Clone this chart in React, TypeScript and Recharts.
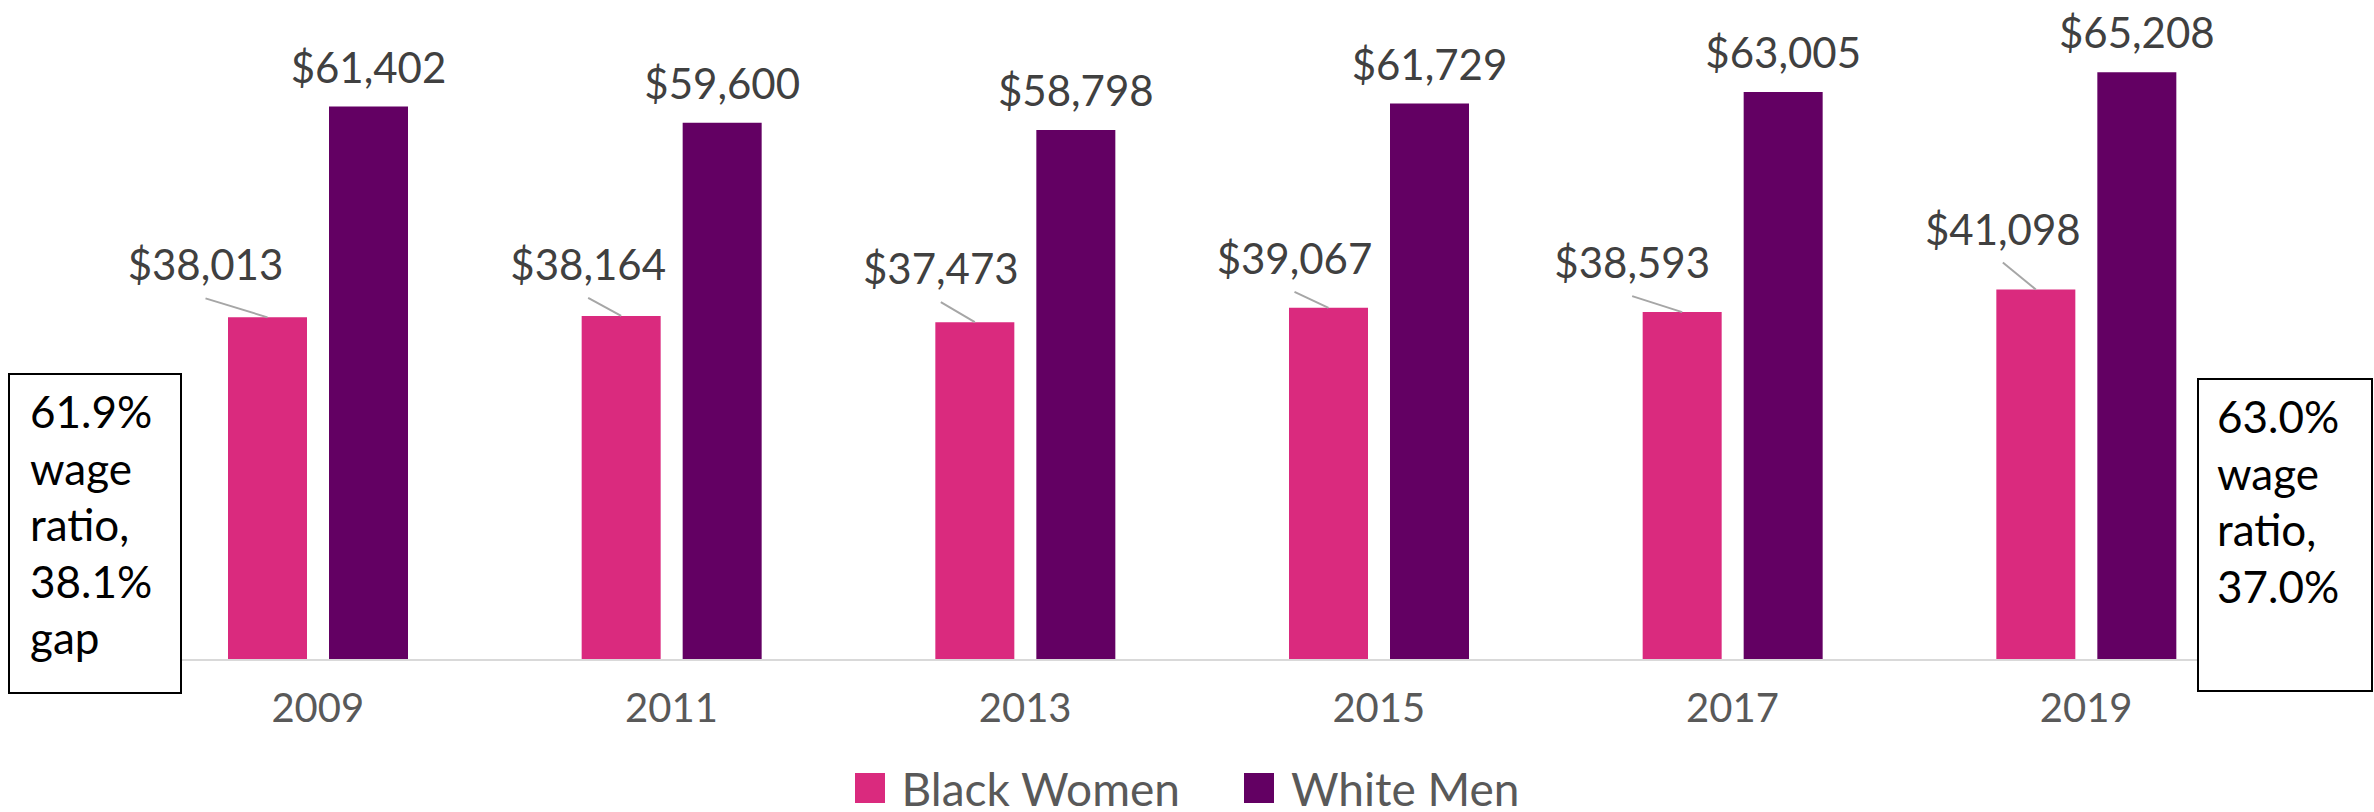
import React from "react"
import { BarChart, Bar, XAxis, YAxis, LabelList } from "recharts"

const years = ["2009", "2011", "2013", "2015", "2017", "2019"]
const blackWomen = [38013, 38164, 37473, 39067, 38593, 41098]
const whiteMen = [61402, 59600, 58798, 61729, 63005, 65208]
const leftNote = ["61.9%", "wage", "ratio,", "38.1%", "gap"]
const rightNote = ["63.0%", "wage", "ratio,", "37.0%"]

// hand-placed label nudges for the pink series (Excel-style moved labels)
const pinkLabelDx = [-62, -33, -34, -34, -50, -33]
const pinkLabelDy = [-37, -36, -38, -34, -34, -45]

const PINK = "#da2a7e"
const PURPLE = "#630063"
const FONT = "Lato, 'Open Sans', sans-serif"

const series = [
  { key: "black", name: "Black Women", color: PINK },
  { key: "white", name: "White Men", color: PURPLE }
]

const data = years.map((year, i) => ({
  year,
  black: blackWomen[i],
  white: whiteMen[i]
}))

const money = (v: number) => "$" + v.toLocaleString("en-US")

function YearTick(props: any) {
  const { x, y, payload } = props
  return (
    <text x={x} y={y + 62} textAnchor="middle" fill="#595959" fontSize={40} fontFamily={FONT}>
      {payload.value}
    </text>
  )
}

function WhiteLabel(props: any) {
  const { x, y, width, value } = props
  return (
    <text x={x + width / 2} y={y - 24} textAnchor="middle" fill="#404040" fontSize={42} fontFamily={FONT}>
      {money(value)}
    </text>
  )
}

function BlackLabel(props: any) {
  const { x, y, width, value, index } = props
  const cx = x + width / 2
  const lx = cx + pinkLabelDx[index]
  const ly = y + pinkLabelDy[index]
  return (
    <g>
      <line x1={lx} y1={ly + 18} x2={cx} y2={y} stroke="#a6a6a6" strokeWidth={2} />
      <text x={lx} y={ly} textAnchor="middle" fill="#404040" fontSize={42} fontFamily={FONT}>
        {money(value)}
      </text>
    </g>
  )
}

function LegendRow() {
  return (
    <div
      style={{
        position: "absolute",
        left: 0,
        top: 764,
        width: 2374,
        height: 48,
        display: "flex",
        justifyContent: "center",
        alignItems: "center",
        fontFamily: FONT,
        fontSize: 46,
        color: "#595959"
      }}
    >
      {series.map((s, i) => (
        <div key={s.key} style={{ display: "flex", alignItems: "center", marginRight: i === 0 ? 64 : 0 }}>
          <span style={{ width: 30, height: 30, background: s.color, marginRight: 17, display: "inline-block" }} />
          <span>{s.name}</span>
        </div>
      ))}
    </div>
  )
}

function Note({ lines, style }: { lines: string[]; style: React.CSSProperties }) {
  return (
    <div
      style={{
        position: "absolute",
        border: "2px solid #000",
        boxSizing: "border-box",
        fontFamily: FONT,
        fontSize: 44,
        lineHeight: "56.5px",
        color: "#000",
        background: "#fff",
        ...style
      }}
    >
      {lines.map((l, i) => (
        <div key={i}>{l}</div>
      ))}
    </div>
  )
}

export default function App() {
  return (
    <div style={{ position: "absolute", left: 0, top: 0, width: 2374, height: 812, background: "#fff" }}>
      <BarChart
        width={2374}
        height={812}
        data={data}
        margin={{ top: 29, right: 111, left: 141, bottom: 122 }}
        barSize={79}
        barGap={22}
      >
        <XAxis
          dataKey="year"
          height={30}
          axisLine={{ stroke: "#d9d9d9", strokeWidth: 2 }}
          tickLine={false}
          tickSize={0}
          tickMargin={0}
          tick={<YearTick />}
          interval={0}
        />
        <YAxis hide domain={[0, 70000]} />
        {series.map((s) => (
          <Bar key={s.key} dataKey={s.key} name={s.name} fill={s.color} isAnimationActive={false}>
            <LabelList dataKey={s.key} content={s.key === "black" ? <BlackLabel /> : <WhiteLabel />} />
          </Bar>
        ))}
      </BarChart>
      <LegendRow />
      <Note lines={leftNote} style={{ left: 8, top: 373, width: 174, height: 321, paddingLeft: 20, paddingTop: 8 }} />
      <Note lines={rightNote} style={{ left: 2197, top: 378, width: 176, height: 314, paddingLeft: 18, paddingTop: 8 }} />
    </div>
  )
}
